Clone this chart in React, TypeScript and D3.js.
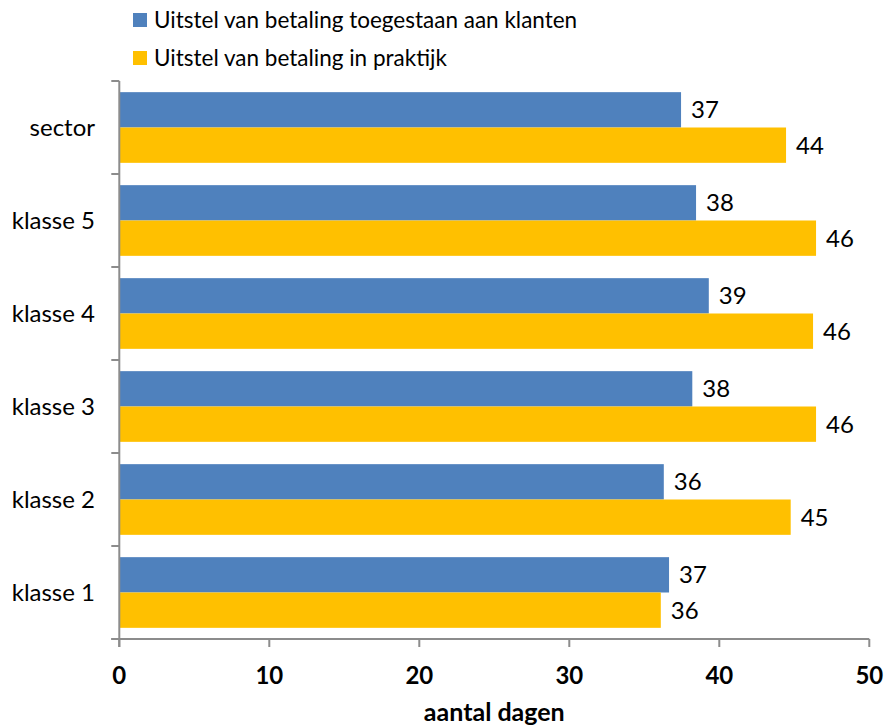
import React from "react";
import * as d3 from "d3";

const categories = ["sector", "klasse 5", "klasse 4", "klasse 3", "klasse 2", "klasse 1"];
const seriesNames = ["Uitstel van betaling toegestaan aan klanten", "Uitstel van betaling in praktijk"];
const toegestaan = [37.45, 38.45, 39.3, 38.2, 36.3, 36.65];
const praktijk = [44.45, 46.45, 46.25, 46.45, 44.76, 36.1];
const xTicks = [0, 10, 20, 30, 40, 50];
const xTitle = "aantal dagen";
const colors = ["#4F81BD", "#FFC000"];

const W = 886;
const H = 725;
const left = 119.3;
const right = 869.3;
const top = 81;
const bottom = 639;
const font = "Lato, 'Open Sans', sans-serif";

export default function App() {
  const x = d3.scaleLinear().domain([0, 50]).range([left, right]);
  const y = d3.scaleBand<string>().domain(categories).range([top, bottom]).paddingInner(0.24).paddingOuter(0.12);
  const inner = d3.scaleBand<number>().domain([0, 1]).range([0, y.bandwidth()]);
  const series = [toegestaan, praktijk];
  const fmt = d3.format(".0f");
  const step = y.step();
  const boundaries = d3.range(categories.length + 1).map((i) => top + i * step);
  const axisColor = "#8c8c8c";

  return (
    <div style={{ position: "absolute", left: 0, top: 0 }}>
      <svg width={W} height={H} style={{ display: "block", background: "#fff" }}>
        {/* legend */}
        {seriesNames.map((name, i) => (
          <g key={name} transform={`translate(133, ${13 + i * 38})`}>
            <rect width={14} height={14} fill={colors[i]} />
            <text x={21} y={7} dy="0.36em" fontFamily={font} fontSize={22.5} fill="#000">
              {name}
            </text>
          </g>
        ))}
        {/* bars */}
        {categories.map((c, ci) => (
          <g key={c} transform={`translate(0, ${y(c)})`}>
            {series.map((vals, si) => (
              <g key={si}>
                <rect
                  x={x(0)}
                  y={inner(si)}
                  width={x(vals[ci]) - x(0)}
                  height={inner.bandwidth()}
                  fill={colors[si]}
                />
                <text
                  x={x(vals[ci]) + 10}
                  y={(inner(si) as number) + inner.bandwidth() / 2}
                  dy="0.36em"
                  fontFamily={font}
                  fontSize={24}
                  fill="#000"
                >
                  {fmt(vals[ci])}
                </text>
              </g>
            ))}
          </g>
        ))}
        {/* category labels */}
        {categories.map((c) => (
          <text
            key={c}
            x={95}
            y={(y(c) as number) + y.bandwidth() / 2}
            dy="0.36em"
            textAnchor="end"
            fontFamily={font}
            fontSize={24}
            fill="#000"
          >
            {c}
          </text>
        ))}
        {/* y axis */}
        <line x1={left} x2={left} y1={top} y2={bottom + 8} stroke={axisColor} strokeWidth={2} />
        {boundaries.map((b, i) => (
          <line key={i} x1={left - 8} x2={left} y1={b} y2={b} stroke={axisColor} strokeWidth={2} />
        ))}
        {/* x axis */}
        <line x1={left - 8} x2={right} y1={bottom} y2={bottom} stroke={axisColor} strokeWidth={2} />
        {xTicks.map((t) => (
          <g key={t}>
            <line x1={x(t)} x2={x(t)} y1={bottom} y2={bottom + 8} stroke={axisColor} strokeWidth={2} />
            <text
              x={x(t)}
              y={675}
              dy="0.36em"
              textAnchor="middle"
              fontFamily={font}
              fontWeight="bold"
              fontSize={24}
              fill="#000"
            >
              {t}
            </text>
          </g>
        ))}
        <text
          x={(left + right) / 2}
          y={712}
          dy="0.36em"
          textAnchor="middle"
          fontFamily={font}
          fontWeight="bold"
          fontSize={25}
          fill="#000"
        >
          {xTitle}
        </text>
      </svg>
    </div>
  );
}
